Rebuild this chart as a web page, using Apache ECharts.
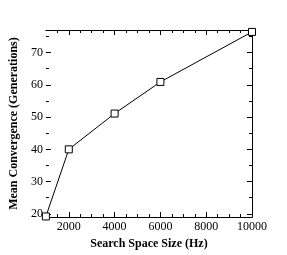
<!DOCTYPE html>
<html><head><meta charset="utf-8">
<script src="https://cdn.jsdelivr.net/npm/echarts@6/dist/echarts.min.js"></script>
<style>html,body{margin:0;padding:0;background:#fff}#c{width:287px;height:255px}</style>
</head><body><div id="c"></div>
<script>
const xValues = [1000, 2000, 4000, 6000, 10000];
const yValues = [19.2, 40, 51.1, 60.9, 76.4];
const xMajorTicks = [2000, 4000, 6000, 8000, 10000];
const xMinorTicks = [1500, 2500, 3000, 3500, 4500, 5000, 5500, 6500, 7000, 7500, 8500, 9000, 9500];
const yMajorTicks = [20, 30, 40, 50, 60, 70];
const yMinorTicks = [25, 35, 45, 55, 65, 75];
const xTitle = 'Search Space Size (Hz)';
const yTitle = 'Mean Convergence (Generations)';

const XMIN = 1000, XMAX = 10000, YMIN = 19, YMAX = 77;
const font = 'Liberation Serif, Times New Roman, serif';

function xAx(pos, ticks, len, labels, line, extra) {
  return Object.assign({
    type: 'value', position: pos, min: XMIN, max: XMAX,
    axisLine: {show: line, onZero: false, lineStyle: {color: '#000', width: 1}},
    axisTick: {show: true, inside: true, length: len, customValues: ticks, lineStyle: {color: '#000'}},
    axisLabel: {show: labels, customValues: ticks, color: '#000', fontFamily: font, fontSize: 12, margin: 4,
      formatter: v => String(v)},
    splitLine: {show: false}
  }, extra || {});
}
function yAx(pos, ticks, len, labels, line, extra) {
  return Object.assign({
    type: 'value', position: pos, min: YMIN, max: YMAX,
    axisLine: {show: line, onZero: false, lineStyle: {color: '#000', width: 1}},
    axisTick: {show: true, inside: true, length: len, customValues: ticks, lineStyle: {color: '#000'}},
    axisLabel: {show: labels, customValues: ticks, color: '#000', fontFamily: font, fontSize: 12, margin: 3,
      formatter: v => String(v)},
    splitLine: {show: false}
  }, extra || {});
}

const chart = echarts.init(document.getElementById('c'), null, {renderer: 'canvas'});
chart.setOption({
  animation: false,
  backgroundColor: '#fff',
  grid: {left: 37, right: 35, top: 30, bottom: 29, containLabel: false},
  xAxis: [
    xAx('bottom', xMajorTicks, 5, true, true, {
      name: xTitle, nameLocation: 'middle', nameGap: 20,
      nameTextStyle: {color: '#000', fontFamily: font, fontSize: 12, fontWeight: 'bold'}
    }),
    xAx('bottom', xMinorTicks, 3, false, false),
    xAx('top', xMajorTicks, 5, false, true),
    xAx('top', xMinorTicks, 3, false, false)
  ],
  yAxis: [
    yAx('left', yMajorTicks, 5, true, false, {
      name: yTitle, nameLocation: 'middle', nameGap: 24,
      nameTextStyle: {color: '#000', fontFamily: font, fontSize: 12, fontWeight: 'bold'}
    }),
    yAx('left', yMinorTicks, 3, false, false),
    yAx('right', yMajorTicks, 5, false, true),
    yAx('right', yMinorTicks, 3, false, false)
  ],
  series: [{
    type: 'line',
    xAxisIndex: 0, yAxisIndex: 0,
    data: xValues.map((x, i) => [x, yValues[i]]),
    symbol: 'rect', symbolSize: 7,
    itemStyle: {color: '#fff', borderColor: '#000', borderWidth: 1},
    lineStyle: {color: '#000', width: 1},
    clip: false
  }]
});
</script></body></html>
